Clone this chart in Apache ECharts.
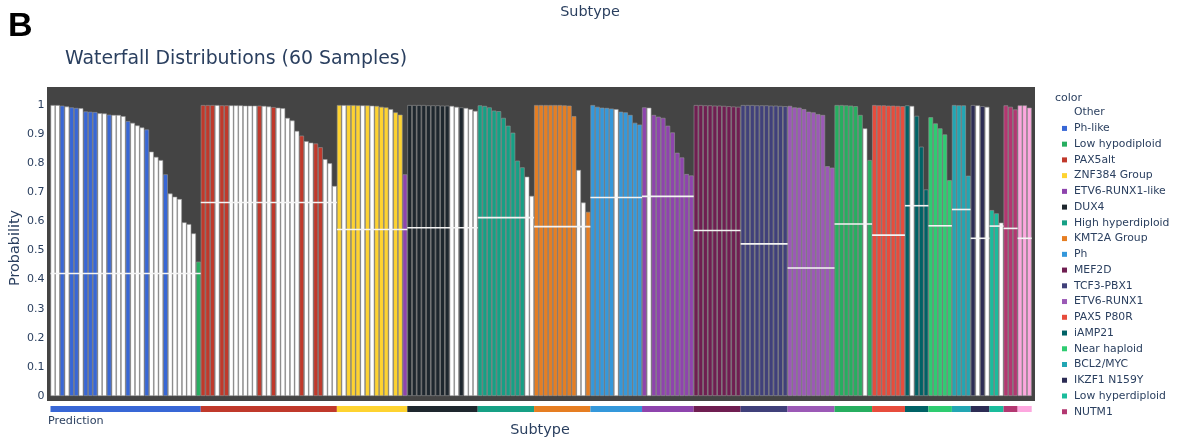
<!DOCTYPE html>
<html>
<head>
<meta charset="utf-8">
<script src="https://cdn.jsdelivr.net/npm/echarts@6/dist/echarts.min.js"></script>
<style>
  html, body { margin: 0; padding: 0; background: #ffffff; }
  #chart { width: 1180px; height: 441px; }
</style>
</head>
<body>
<div id="chart"></div>
<script>
// Subtype groups, in the order they run along the x axis
const subtypes = [
  'Ph-like', 'PAX5alt', 'ZNF384 Group', 'DUX4', 'High hyperdiploid', 'KMT2A Group',
  'Ph', 'ETV6-RUNX1-like', 'MEF2D', 'TCF3-PBX1', 'ETV6-RUNX1', 'Low hypodiploid',
  'PAX5 P80R', 'iAMP21', 'Near haploid', 'BCL2/MYC', 'IKZF1 N159Y', 'Low hyperdiploid',
  'NUTM1', 'Subtype 20'
];

const subtypeColors = [
  '#3867d6', '#c0392b', '#fed330', '#1e272e', '#16a085', '#e67e22',
  '#3498db', '#8e44ad', '#6f1e51', '#40407a', '#9b59b6', '#27ae60',
  '#e74c3c', '#006266', '#2ecc71', '#22a6b3', '#2c2c54', '#1abc9c',
  '#b33771', '#fda7df'
];

// Predicted probability of every sample, sorted within its group
const probabilities = [
  [1.000, 1.000, 0.998, 0.995, 0.992, 0.990, 0.989, 0.978, 0.977, 0.976, 0.972, 0.971, 0.967, 0.966, 0.966, 0.962,
   0.945, 0.939, 0.930, 0.923, 0.916, 0.840, 0.822, 0.811, 0.762, 0.696, 0.685, 0.677, 0.597, 0.591, 0.559, 0.462],
  [1.000, 1.000, 1.000, 1.000, 0.999, 0.999, 0.999, 0.999, 0.999, 0.998, 0.998, 0.998, 0.998, 0.997, 0.995,
   0.993, 0.991, 0.989, 0.956, 0.947, 0.911, 0.895, 0.876, 0.871, 0.868, 0.855, 0.814, 0.800, 0.722],
  [1.000, 1.000, 1.000, 1.000, 0.999, 0.999, 0.999, 0.998, 0.997, 0.994, 0.992, 0.986, 0.975, 0.967, 0.762],
  [1.000, 1.000, 1.000, 1.000, 0.999, 0.999, 0.999, 0.998, 0.998, 0.997, 0.994, 0.992, 0.990, 0.986, 0.980],
  [0.999, 0.997, 0.992, 0.981, 0.979, 0.956, 0.929, 0.905, 0.809, 0.786, 0.754, 0.688],
  [1.000, 1.000, 1.000, 1.000, 1.000, 1.000, 0.999, 0.998, 0.962, 0.777, 0.665, 0.633],
  [1.000, 0.994, 0.991, 0.990, 0.988, 0.986, 0.977, 0.975, 0.966, 0.939, 0.933],
  [0.992, 0.991, 0.966, 0.960, 0.956, 0.929, 0.906, 0.836, 0.820, 0.763, 0.758],
  [1.000, 1.000, 0.999, 0.999, 0.998, 0.998, 0.997, 0.996, 0.995, 0.994],
  [1.000, 1.000, 1.000, 0.999, 0.999, 0.999, 0.998, 0.998, 0.997, 0.996],
  [0.997, 0.992, 0.991, 0.986, 0.977, 0.975, 0.969, 0.966, 0.790, 0.785],
  [1.000, 1.000, 0.999, 0.998, 0.996, 0.966, 0.920, 0.811],
  [1.000, 0.999, 0.999, 0.998, 0.998, 0.997, 0.996],
  [0.999, 0.997, 0.963, 0.857, 0.710],
  [0.958, 0.937, 0.920, 0.899, 0.742],
  [1.000, 0.999, 0.999, 0.757],
  [1.000, 0.999, 0.996, 0.994],
  [0.639, 0.628, 0.596],
  [0.999, 0.994, 0.985],
  [0.999, 0.999, 0.991]
];

// Call of each sample: 1 = its own group subtype, 0 = Other, letters = another subtype
const calls = [
  '00101 10111 00100 01000 10001 00000 0L',
  '11101 10000 00100 10000 01001 1000',
  '10111 01011 1011E',
  '11111 11110 01000',
  '11111 11111 00',
  '11111 11110 01',
  '11111 01111 1',
  '10111 11111 1',
  '11111 11111',
  '11111 11111',
  '11111 11111',
  '11111 101',
  '11111 11',
  '10111',
  '11111',
  '1111',
  '1010',
  '110',
  '111',
  '111'
];
const callKey = { '0': 'Other', 'L': 'Low hypodiploid', 'E': 'ETV6-RUNX1-like' };

// Per-group reference level drawn as a white rule across the group
const thresholds = [
  0.421, 0.665, 0.572, 0.578, 0.613, 0.582, 0.682, 0.686, 0.569, 0.523,
  0.440, 0.591, 0.553, 0.654, 0.585, 0.641, 0.542, 0.584, 0.576, 0.542
];

const legendOrder = [
  'Other', 'Ph-like', 'Low hypodiploid', 'PAX5alt', 'ZNF384 Group', 'ETV6-RUNX1-like',
  'DUX4', 'High hyperdiploid', 'KMT2A Group', 'Ph', 'MEF2D', 'TCF3-PBX1', 'ETV6-RUNX1',
  'PAX5 P80R', 'iAMP21', 'Near haploid', 'BCL2/MYC', 'IKZF1 N159Y', 'Low hyperdiploid', 'NUTM1'
];

const yTickStep = 0.1;

// ---- flatten groups into one sample list ----
const samples = [];
const groupSpans = [];
subtypes.forEach((name, g) => {
  const codes = calls[g].replace(/\s/g, '');
  const start = samples.length;
  probabilities[g].forEach((p, i) => {
    const c = codes[i];
    samples.push({ group: g, call: c === '1' ? name : callKey[c], prob: p });
  });
  groupSpans.push([start, samples.length - 1, thresholds[g], g]);
});
const categories = samples.map((s, i) => 'S' + (i + 1));

const colorOf = name => name === 'Other' ? '#ffffff' : subtypeColors[subtypes.indexOf(name)];
const callNames = ['Other'].concat(subtypes);

const FONT = '"DejaVu Sans", Verdana, sans-serif';
const INK = '#2a3f5f';

const barSeries = callNames.map(name => ({
  name: name,
  type: 'bar',
  xAxisIndex: 1,
  yAxisIndex: 1,
  barGap: '-100%',
  barCategoryGap: 0,
  itemStyle: { color: colorOf(name), borderColor: 'rgba(150,150,150,0.85)', borderWidth: 0.7 },
  emphasis: { disabled: true },
  data: samples.map(s => s.call === name ? s.prob : '-'),
  z: 2
}));

// horizontal rule across each whole group at its reference level
const ruleSeries = {
  type: 'custom',
  xAxisIndex: 1,
  yAxisIndex: 1,
  silent: true,
  z: 5,
  dimensions: ['start', 'end', 'level', 'group'],
  encode: { x: [0, 1], y: 2 },
  data: groupSpans,
  renderItem: function (params, api) {
    const level = api.value(2);
    const a = api.coord([api.value(0), level]);
    const b = api.coord([api.value(1), level]);
    const half = api.size([1, 0])[0] / 2;
    return {
      type: 'line',
      shape: { x1: a[0] - half, y1: a[1], x2: b[0] + half, y2: b[1] },
      style: { stroke: '#f4f4f4', lineWidth: 1.6 }
    };
  }
};

// prediction strip: one solid block per group under the panel
const stripSeries = {
  type: 'custom',
  xAxisIndex: 2,
  yAxisIndex: 2,
  silent: true,
  dimensions: ['start', 'end', 'level', 'group'],
  encode: { x: [0, 1] },
  data: groupSpans,
  renderItem: function (params, api) {
    const a = api.coord([api.value(0), 1]);
    const b = api.coord([api.value(1), 0]);
    const half = api.size([1, 0])[0] / 2;
    return {
      type: 'rect',
      shape: { x: a[0] - half, y: a[1], width: b[0] - a[0] + 2 * half, height: b[1] - a[1] },
      style: { fill: subtypeColors[api.value(3)] }
    };
  }
};

const chart = echarts.init(document.getElementById('chart'), null, { renderer: 'canvas' });

chart.setOption({
  animation: false,
  backgroundColor: '#ffffff',
  textStyle: { fontFamily: FONT },
  grid: [
    // dark plotting panel
    { left: 47, top: 87, width: 988, height: 314, show: true, backgroundColor: '#444444', borderWidth: 0 },
    // probability bars
    { left: 50.5, top: 87, width: 981.2, height: 309, show: false },
    // prediction strip
    { left: 50.5, top: 406, width: 981.2, height: 6, show: false }
  ],
  xAxis: [
    { gridIndex: 0, type: 'value', show: false },
    { gridIndex: 1, type: 'category', data: categories, show: false },
    { gridIndex: 2, type: 'category', data: categories, show: false }
  ],
  yAxis: [
    { gridIndex: 0, type: 'value', show: false },
    {
      gridIndex: 1, type: 'value', min: 0, max: 1.062, interval: yTickStep,
      axisLine: { show: false }, axisTick: { show: false }, splitLine: { show: false },
      axisLabel: {
        margin: 6, fontSize: 11, color: INK, fontFamily: FONT,
        formatter: v => (v > 1.0001 ? '' : String(Math.round(v * 10) / 10))
      }
    },
    { gridIndex: 2, type: 'value', min: 0, max: 1, show: false }
  ],
  legend: {
    data: legendOrder,
    orient: 'vertical',
    left: 1062,
    top: 104.8,
    padding: 0,
    icon: 'rect',
    itemWidth: 5,
    itemHeight: 5,
    itemGap: 0,
    selectedMode: false,
    itemStyle: { borderWidth: 0 },
    textStyle: { fontSize: 10.8, color: INK, fontFamily: FONT, lineHeight: 15.74, padding: [0, 0, 0, 2] }
  },
  graphic: [
    { type: 'text', x: 8, y: 27, style: { text: 'B', font: 'bold 34px "Liberation Sans", Arial, sans-serif', fill: '#000', textVerticalAlign: 'middle' } },
    { type: 'text', x: 590, y: 12, style: { text: 'Subtype', font: '14.4px ' + FONT, fill: INK, textAlign: 'center', textVerticalAlign: 'middle' } },
    { type: 'text', x: 65, y: 59, style: { text: 'Waterfall Distributions (60 Samples)', font: '18.9px ' + FONT, fill: INK, textVerticalAlign: 'middle' } },
    { type: 'text', x: 15, y: 248, rotation: Math.PI / 2, style: { text: 'Probability', font: '14.4px ' + FONT, fill: INK, textAlign: 'center', textVerticalAlign: 'middle' } },
    { type: 'text', x: 48, y: 421, style: { text: 'Prediction', font: '11.2px ' + FONT, fill: INK, textVerticalAlign: 'middle' } },
    { type: 'text', x: 540, y: 430, style: { text: 'Subtype', font: '14.4px ' + FONT, fill: INK, textAlign: 'center', textVerticalAlign: 'middle' } },
    { type: 'text', x: 1055, y: 98, style: { text: 'color', font: '11px ' + FONT, fill: INK, textVerticalAlign: 'middle' } }
  ],
  series: barSeries.concat([ruleSeries, stripSeries])
});
</script>
</body>
</html>
